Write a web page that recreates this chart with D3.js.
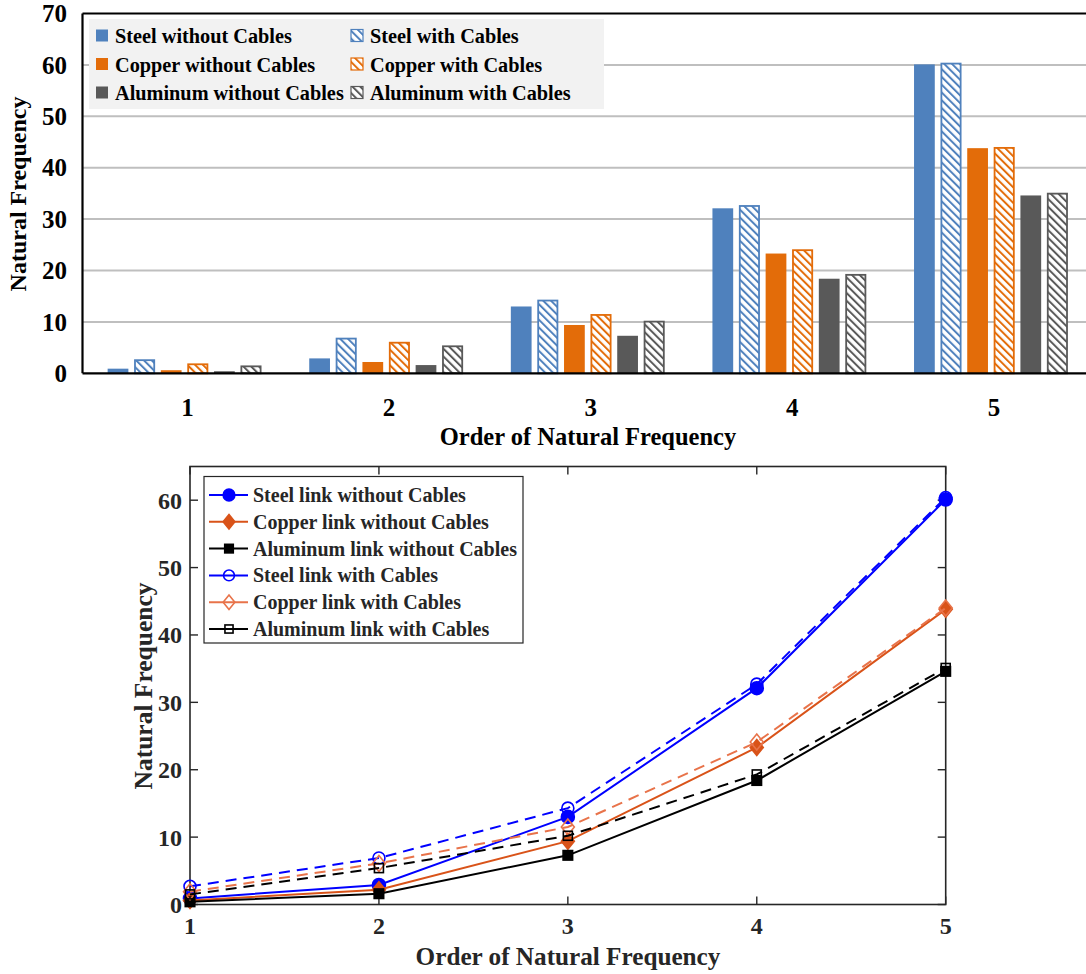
<!DOCTYPE html>
<html><head><meta charset="utf-8">
<script src="https://cdn.jsdelivr.net/npm/d3@7/dist/d3.min.js"></script>
<style>
body{margin:0;background:#fff}
text{font-family:"Liberation Serif","Times New Roman",serif;font-weight:bold}
</style></head>
<body><svg id="c" width="1086" height="974"></svg>
<script>
// ---------- data ----------
const orders = ["1","2","3","4","5"];
const steelWithout    = [0.9, 2.9, 13.0, 32.1, 60.1];
const steelWith       = [2.7, 6.9, 14.3, 32.7, 60.4];
const copperWithout   = [0.6, 2.2,  9.4, 23.3, 43.8];
const copperWith      = [1.9, 6.1, 11.5, 24.1, 44.0];
const aluminumWithout = [0.4, 1.6,  7.3, 18.4, 34.6];
const aluminumWith    = [1.5, 5.4, 10.2, 19.3, 35.1];

const barNames = ["Steel without Cables","Steel with Cables","Copper without Cables","Copper with Cables","Aluminum without Cables","Aluminum with Cables"];
const lineNames = ["Steel link without Cables","Copper link without Cables","Aluminum link without Cables","Steel link with Cables","Copper link with Cables","Aluminum link with Cables"];
const barYTicks = [0,10,20,30,40,50,60,70];
const lineYTicks = [0,10,20,30,40,50,60];
const lineXTicks = [1,2,3,4,5];
const xTitle = "Order of Natural Frequency";
const yTitle = "Natural Frequency";

const barSeries = [
  {name:barNames[0], values:steelWithout,    color:"#4F81BD", hatch:false},
  {name:barNames[1], values:steelWith,       color:"#4F81BD", hatch:true},
  {name:barNames[2], values:copperWithout,   color:"#E36C09", hatch:false},
  {name:barNames[3], values:copperWith,      color:"#E36C09", hatch:true},
  {name:barNames[4], values:aluminumWithout, color:"#595959", hatch:false},
  {name:barNames[5], values:aluminumWith,    color:"#595959", hatch:true}
];
const lineSeries = [
  {name:lineNames[0], values:steelWithout,    color:"#0000FF", dash:null, marker:"circle",  filled:true},
  {name:lineNames[1], values:copperWithout,   color:"#D95319", dash:null, marker:"diamond", filled:true},
  {name:lineNames[2], values:aluminumWithout, color:"#000000", dash:null, marker:"square",  filled:true},
  {name:lineNames[3], values:steelWith,       color:"#0000FF", dash:"11,7", marker:"circle",  filled:false},
  {name:lineNames[4], values:copperWith,      color:"#E8734A", dash:"11,7", marker:"diamond", filled:false},
  {name:lineNames[5], values:aluminumWith,    color:"#000000", dash:"11,7", marker:"square",  filled:false}
];

const svg = d3.select("#c");
const defs = svg.append("defs");
barSeries.forEach((s,i)=>{
  if(!s.hatch) return;
  const p = defs.append("pattern").attr("id","h"+i).attr("patternUnits","userSpaceOnUse")
    .attr("width",5.5).attr("height",5.5).attr("patternTransform","rotate(-45)");
  p.append("rect").attr("width",5.5).attr("height",5.5).attr("fill","#fff");
  p.append("rect").attr("x",0).attr("y",0).attr("width",2).attr("height",5.5).attr("fill",s.color);
});

// ---------- top: bar chart ----------
const T = {left:82.5, top:13.5, bottom:373.3};
const x0 = d3.scaleBand().domain(orders).range([83.7, 1091.7]);
const x1 = d3.scaleBand().domain(barSeries.map(s=>s.name)).range([0, x0.bandwidth()]).paddingInner(0.22).paddingOuter(0.9);
const yb = d3.scaleLinear().domain([0,70]).range([T.bottom, T.top]);

const gTop = svg.append("g");
gTop.selectAll("line.grid").data(barYTicks.filter(v=>v>0 && v<70)).join("line")
  .attr("x1",T.left).attr("x2",1086).attr("y1",d=>yb(d)).attr("y2",d=>yb(d))
  .attr("stroke","#BFBFBF").attr("stroke-width",2);
const lg = gTop.append("g");
lg.append("rect").attr("x",89).attr("y",19).attr("width",515).attr("height",90).attr("fill","#F2F2F2");
barSeries.forEach((s,i)=>{
  gTop.append("g").selectAll("rect").data(s.values.map((v,k)=>({v,k}))).join("rect")
    .attr("x",d=>x0(orders[d.k])+x1(s.name)+(s.hatch?0.75:0))
    .attr("y",d=>yb(d.v)+(s.hatch?0.75:0))
    .attr("width",x1.bandwidth()-(s.hatch?1.5:0))
    .attr("height",d=>Math.max(0,T.bottom-yb(d.v)-(s.hatch?0.75:0)))
    .attr("fill",s.hatch?`url(#h${i})`:s.color)
    .attr("stroke",s.hatch?s.color:"none").attr("stroke-width",s.hatch?1.8:0);
});
gTop.append("line").attr("x1",T.left).attr("x2",1086).attr("y1",T.top).attr("y2",T.top).attr("stroke","#000").attr("stroke-width",2.2);
gTop.append("line").attr("x1",T.left).attr("x2",1086).attr("y1",T.bottom).attr("y2",T.bottom).attr("stroke","#000").attr("stroke-width",2.2);
gTop.append("line").attr("x1",T.left).attr("x2",T.left).attr("y1",T.top).attr("y2",T.bottom).attr("stroke","#000").attr("stroke-width",2.2);
gTop.selectAll("text.yt").data(barYTicks).join("text")
  .attr("x",67).attr("y",d=>yb(d)).attr("dy","0.35em").attr("text-anchor","end")
  .attr("font-size",25).attr("fill","#000").text(d=>d);
gTop.selectAll("text.xt").data(orders).join("text")
  .attr("x",d=>x0(d)+x0.bandwidth()/2+3).attr("y",416).attr("text-anchor","middle")
  .attr("font-size",25).attr("fill","#000").text(d=>d);
gTop.append("text").attr("x",588).attr("y",445).attr("text-anchor","middle").attr("font-size",24.5).text(xTitle);
gTop.append("text").attr("transform","translate(26,194) rotate(-90)").attr("text-anchor","middle").attr("font-size",24).text(yTitle);
barSeries.forEach((s,i)=>{
  const col = i%2, row = Math.floor(i/2);
  const lx = col===0 ? 96 : 351, ly = 36 + row*28.5;
  lg.append("rect").attr("x",lx).attr("y",ly-6.5).attr("width",12).attr("height",12)
    .attr("fill",s.hatch?`url(#h${i})`:s.color).attr("stroke",s.hatch?s.color:"none").attr("stroke-width",1.2);
  lg.append("text").attr("x",lx+19).attr("y",ly).attr("dy","0.35em").attr("font-size",20.3).attr("fill","#000").text(s.name);
});

// ---------- bottom: line chart ----------
const B = {left:190, right:945.7, top:466.5, bottom:904.5};
const xl = d3.scaleLinear().domain([1,5]).range([B.left,B.right]);
const yl = d3.scaleLinear().domain([0,65]).range([B.bottom,B.top]);
const gB = svg.append("g");
const axColor = "#262626";
gB.append("rect").attr("x",B.left).attr("y",B.top).attr("width",B.right-B.left).attr("height",B.bottom-B.top)
  .attr("fill","none").attr("stroke",axColor).attr("stroke-width",1.6);
const tl = 8;
gB.selectAll("line.yl").data(lineYTicks).join("line").attr("x1",B.left).attr("x2",B.left+tl).attr("y1",d=>yl(d)).attr("y2",d=>yl(d)).attr("stroke",axColor).attr("stroke-width",1.4);
gB.selectAll("line.yr").data(lineYTicks).join("line").attr("x1",B.right).attr("x2",B.right-tl).attr("y1",d=>yl(d)).attr("y2",d=>yl(d)).attr("stroke",axColor).attr("stroke-width",1.4);
gB.selectAll("line.xb").data(lineXTicks).join("line").attr("x1",d=>xl(d)).attr("x2",d=>xl(d)).attr("y1",B.bottom).attr("y2",B.bottom-tl).attr("stroke",axColor).attr("stroke-width",1.4);
gB.selectAll("line.xt").data(lineXTicks).join("line").attr("x1",d=>xl(d)).attr("x2",d=>xl(d)).attr("y1",B.top).attr("y2",B.top+tl).attr("stroke",axColor).attr("stroke-width",1.4);
gB.selectAll("text.yl").data(lineYTicks).join("text").attr("x",B.left-8).attr("y",d=>yl(d)).attr("dy","0.35em")
  .attr("text-anchor","end").attr("font-size",24).attr("fill",axColor).text(d=>d);
gB.selectAll("text.xl").data(lineXTicks).join("text").attr("x",d=>xl(d)).attr("y",934)
  .attr("text-anchor","middle").attr("font-size",24).attr("fill",axColor).text(d=>d);
gB.append("text").attr("x",568).attr("y",965).attr("text-anchor","middle").attr("font-size",25.2).attr("fill",axColor).text(xTitle);
gB.append("text").attr("transform","translate(152,686) rotate(-90)").attr("text-anchor","middle").attr("font-size",25.5).attr("fill",axColor).text(yTitle);

function drawMarker(g, type, cx, cy, color, filled, scale){
  const sc = scale||1;
  let m;
  if(type==="circle") m = g.append("circle").attr("cx",cx).attr("cy",cy).attr("r",(filled?6.5:6)*sc);
  else if(type==="diamond"){ const w=6.5*sc,h=8*sc; m = g.append("path").attr("d",`M${cx},${cy-h}L${cx+w},${cy}L${cx},${cy+h}L${cx-w},${cy}Z`); }
  else { const s=(filled?9.5:9)*sc; m = g.append("rect").attr("x",cx-s/2).attr("y",cy-s/2).attr("width",s).attr("height",s); }
  m.attr("fill",filled?color:"none").attr("stroke",color).attr("stroke-width",1.6);
}
const line = d3.line().x((d,i)=>xl(lineXTicks[i])).y(d=>yl(d));
lineSeries.forEach(s=>{
  const g = gB.append("g");
  g.append("path").attr("d",line(s.values)).attr("fill","none").attr("stroke",s.color).attr("stroke-width",2)
    .attr("stroke-dasharray",s.dash);
  s.values.forEach((v,i)=>drawMarker(g,s.marker,xl(lineXTicks[i]),yl(v),s.color,s.filled));
});
const bl = gB.append("g");
bl.append("rect").attr("x",204).attr("y",476.5).attr("width",319).attr("height",166.5).attr("fill","#fff").attr("stroke",axColor).attr("stroke-width",1.2);
lineSeries.forEach((s,i)=>{
  const ly = 495 + i*26.8;
  bl.append("line").attr("x1",209).attr("x2",248).attr("y1",ly).attr("y2",ly).attr("stroke",s.color).attr("stroke-width",2);
  drawMarker(bl,s.marker,229,ly,s.color,s.filled,0.9);
  bl.append("text").attr("x",253).attr("y",ly).attr("dy","0.35em").attr("font-size",20).attr("fill",axColor).text(s.name);
});
</script></body></html>
